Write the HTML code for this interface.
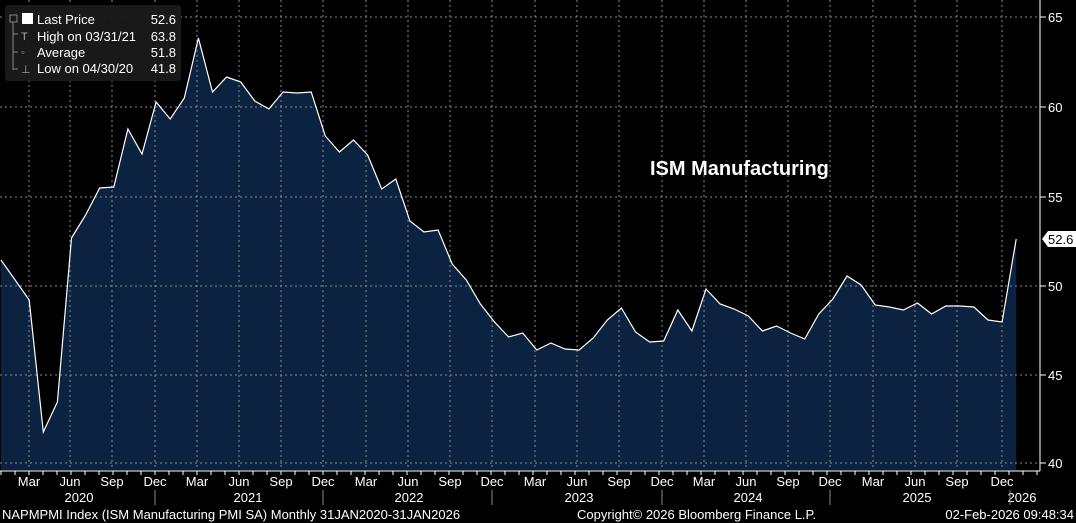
<!DOCTYPE html>
<html><head><meta charset="utf-8"><style>
html,body{margin:0;padding:0;background:#000;}
svg{display:block;font-family:"Liberation Sans",sans-serif;}
</style></head><body>
<svg width="1076" height="523" viewBox="0 0 1076 523">
<rect width="1076" height="523" fill="#000"/>
<polygon fill="#0b2341" points="1,470 1,260 15.1,280 29.2,300 43.3,432 57.4,402 71.5,238 85.6,215 99.7,188 113.8,187 127.9,129 142,154 156.1,102 170.2,119 184.3,98 198.4,38 212.5,92 226.6,77 240.7,82 254.8,101 268.9,109 283,92 297.1,93 311.2,92 325.3,136 339.4,152 353.5,140 367.6,155 381.7,189 395.8,179 409.9,221 424,232 438.1,230 452.2,264 466.3,280 480.4,304 494.5,322 508.6,337 522.7,333 536.8,350 550.9,343 565,349 579.1,350 593.2,338 607.3,320 621.4,308 635.5,332 649.6,342 663.7,341 677.8,310 691.9,331 706,289 720.1,304 734.2,309 748.3,316 762.4,331 776.5,326 790.6,333 804.7,339 818.8,314 832.9,299 847,276 861.1,285 875.2,305 889.3,307 903.4,310 917.5,303 931.6,314 945.7,306 959.8,306 973.9,307 988,320 1002.1,322 1016.2,239 1016.2,470"/>
<g stroke="#8a8a8a" stroke-width="1" stroke-dasharray="2,3" fill="none">
<line x1="0" y1="17" x2="1040" y2="17"/><line x1="0" y1="107" x2="1040" y2="107"/><line x1="0" y1="197" x2="1040" y2="197"/><line x1="0" y1="286" x2="1040" y2="286"/><line x1="0" y1="375" x2="1040" y2="375"/><line x1="0" y1="463" x2="1040" y2="463"/>
<line x1="29" y1="0" x2="29" y2="470"/><line x1="70" y1="0" x2="70" y2="470"/><line x1="112" y1="0" x2="112" y2="470"/><line x1="155" y1="0" x2="155" y2="470"/><line x1="197" y1="0" x2="197" y2="470"/><line x1="239" y1="0" x2="239" y2="470"/><line x1="281" y1="0" x2="281" y2="470"/><line x1="323" y1="0" x2="323" y2="470"/><line x1="366" y1="0" x2="366" y2="470"/><line x1="408" y1="0" x2="408" y2="470"/><line x1="450" y1="0" x2="450" y2="470"/><line x1="492" y1="0" x2="492" y2="470"/><line x1="535" y1="0" x2="535" y2="470"/><line x1="577" y1="0" x2="577" y2="470"/><line x1="619" y1="0" x2="619" y2="470"/><line x1="662" y1="0" x2="662" y2="470"/><line x1="704" y1="0" x2="704" y2="470"/><line x1="746" y1="0" x2="746" y2="470"/><line x1="788" y1="0" x2="788" y2="470"/><line x1="830" y1="0" x2="830" y2="470"/><line x1="873" y1="0" x2="873" y2="470"/><line x1="915" y1="0" x2="915" y2="470"/><line x1="957" y1="0" x2="957" y2="470"/><line x1="1002" y1="0" x2="1002" y2="470"/>
</g>
<polyline fill="none" stroke="#fff" stroke-width="1.2" points="1,260 15.1,280 29.2,300 43.3,432 57.4,402 71.5,238 85.6,215 99.7,188 113.8,187 127.9,129 142,154 156.1,102 170.2,119 184.3,98 198.4,38 212.5,92 226.6,77 240.7,82 254.8,101 268.9,109 283,92 297.1,93 311.2,92 325.3,136 339.4,152 353.5,140 367.6,155 381.7,189 395.8,179 409.9,221 424,232 438.1,230 452.2,264 466.3,280 480.4,304 494.5,322 508.6,337 522.7,333 536.8,350 550.9,343 565,349 579.1,350 593.2,338 607.3,320 621.4,308 635.5,332 649.6,342 663.7,341 677.8,310 691.9,331 706,289 720.1,304 734.2,309 748.3,316 762.4,331 776.5,326 790.6,333 804.7,339 818.8,314 832.9,299 847,276 861.1,285 875.2,305 889.3,307 903.4,310 917.5,303 931.6,314 945.7,306 959.8,306 973.9,307 988,320 1002.1,322 1016.2,239"/>
<line x1="1040" y1="0" x2="1040" y2="471" stroke="#fff"/>
<line x1="0" y1="471" x2="1040" y2="471" stroke="#fff"/>
<path stroke="#fff" d="M1,471v4M15,471v4M29,471v4M43,471v4M57,471v4M71,471v4M85,471v4M99,471v4M113,471v4M127,471v4M141,471v4M155,471v4M169,471v4M183,471v4M197,471v4M211,471v4M225,471v4M239,471v4M253,471v4M267,471v4M281,471v4M295,471v4M309,471v4M323,471v4M337,471v4M351,471v4M365,471v4M379,471v4M393,471v4M407,471v4M421,471v4M435,471v4M449,471v4M463,471v4M477,471v4M491,471v4M505,471v4M519,471v4M533,471v4M547,471v4M561,471v4M575,471v4M589,471v4M603,471v4M617,471v4M631,471v4M645,471v4M659,471v4M673,471v4M687,471v4M701,471v4M715,471v4M729,471v4M743,471v4M757,471v4M771,471v4M785,471v4M799,471v4M813,471v4M827,471v4M841,471v4M855,471v4M869,471v4M883,471v4M897,471v4M911,471v4M925,471v4M939,471v4M953,471v4M967,471v4M981,471v4M995,471v4M1009,471v4M1023,471v4M1037,471v4"/>
<g stroke="#fff"><line x1="1040" y1="17" x2="1046" y2="17"/><line x1="1040" y1="107" x2="1046" y2="107"/><line x1="1040" y1="197" x2="1046" y2="197"/><line x1="1040" y1="286" x2="1046" y2="286"/><line x1="1040" y1="375" x2="1046" y2="375"/><line x1="1040" y1="463" x2="1046" y2="463"/></g>
<g fill="#fff" font-size="13"><text x="1048" y="22">65</text><text x="1048" y="112">60</text><text x="1048" y="202">55</text><text x="1048" y="291">50</text><text x="1048" y="380">45</text><text x="1048" y="468">40</text></g>
<polygon points="1042,239 1048,231 1076,231 1076,247 1048,247" fill="#fff"/>
<text x="1048" y="244" font-size="13" fill="#000">52.6</text>
<g fill="#fff" font-size="13" text-anchor="middle">
<text x="29" y="486">Mar</text><text x="70" y="486">Jun</text><text x="112" y="486">Sep</text><text x="155" y="486">Dec</text><text x="197" y="486">Mar</text><text x="239" y="486">Jun</text><text x="281" y="486">Sep</text><text x="323" y="486">Dec</text><text x="366" y="486">Mar</text><text x="408" y="486">Jun</text><text x="450" y="486">Sep</text><text x="492" y="486">Dec</text><text x="535" y="486">Mar</text><text x="577" y="486">Jun</text><text x="619" y="486">Sep</text><text x="662" y="486">Dec</text><text x="704" y="486">Mar</text><text x="746" y="486">Jun</text><text x="788" y="486">Sep</text><text x="830" y="486">Dec</text><text x="873" y="486">Mar</text><text x="915" y="486">Jun</text><text x="957" y="486">Sep</text><text x="1002" y="486">Dec</text>
<text x="79" y="502">2020</text><text x="248" y="502">2021</text><text x="409" y="502">2022</text><text x="579" y="502">2023</text><text x="748" y="502">2024</text><text x="917" y="502">2025</text><text x="1022" y="502">2026</text>
</g>
<g stroke="#888"><line x1="155" y1="490" x2="155" y2="505"/><line x1="323" y1="490" x2="323" y2="505"/><line x1="492" y1="490" x2="492" y2="505"/><line x1="662" y1="490" x2="662" y2="505"/><line x1="830" y1="490" x2="830" y2="505"/><line x1="1010" y1="490" x2="1010" y2="505"/></g>
<g fill="#fff" font-size="13">
<text x="2" y="519">NAPMPMI Index (ISM Manufacturing PMI SA) Monthly 31JAN2020-31JAN2026</text>
<text x="577" y="519">Copyright© 2026 Bloomberg Finance L.P.</text>
<text x="1074" y="519" text-anchor="end">02-Feb-2026 09:48:34</text>
</g>
<text x="650" y="175" fill="#fff" font-size="20" font-weight="bold">ISM Manufacturing</text>
<rect x="5" y="5" width="176" height="76" rx="3" fill="#1a1a1a" opacity="0.95"/>
<g stroke="#888" fill="none"><rect x="10" y="15" width="7" height="7"/><line x1="13" y1="22" x2="13" y2="70"/><line x1="13" y1="34" x2="18" y2="34"/><line x1="13" y1="52" x2="18" y2="52"/><line x1="13" y1="69" x2="18" y2="69"/></g>
<rect x="22" y="13" width="11" height="11" fill="#fff"/>
<g fill="#fff" font-size="13">
<text x="37" y="24">Last Price</text><text x="176" y="24" text-anchor="end">52.6</text>
<text x="37" y="41">High on 03/31/21</text><text x="176" y="41" text-anchor="end">63.8</text>
<text x="37" y="57">Average</text><text x="176" y="57" text-anchor="end">51.8</text>
<text x="37" y="73">Low on 04/30/20</text><text x="176" y="73" text-anchor="end">41.8</text>
</g>
<g fill="#aaa" font-size="11"><text x="21" y="40">T</text><text x="21" y="56">◦</text><text x="21" y="73">⊥</text></g>
</svg>
</body></html>
